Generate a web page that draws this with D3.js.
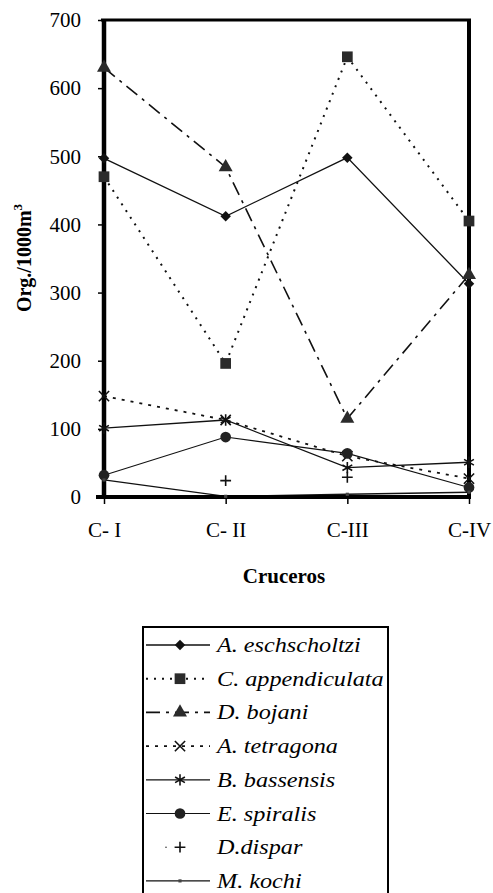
<!DOCTYPE html>
<html>
<head>
<meta charset="utf-8">
<script src="https://cdn.jsdelivr.net/npm/d3@7"></script>
<style>
  body { margin: 0; background: #fff; }
  svg { font-family: "Liberation Serif", "DejaVu Serif", serif; }
</style>
</head>
<body>
<div id="chart"></div>
<script>
// data
const cruceros = ["C- I", "C- II", "C-III", "C-IV"];
const yTicks = [0, 100, 200, 300, 400, 500, 600, 700];

const eschscholtzi = [497, 412, 498, 313];
const appendiculata = [470, 196, 646, 405];
const bojani = [630, 484, 115, 326];
const tetragona = [148, 113, 60, 27];
const bassensis = [101, 113, 43, 51];
const spiralis = [32, 88, 64, 14];
const dispar = [null, 24, 29, null];
const kochi = [25, 1, 4, 7];

const speciesNames = ["A. eschscholtzi", "C. appendiculata", "D. bojani", "A. tetragona",
    "B. bassensis", "E. spiralis", "D.dispar", "M. kochi"];

const W = 493, H = 893;
const plotLeft = 104, plotRight = 469, plotTop = 20, plotBottom = 497;
const serif = "'Liberation Serif', 'DejaVu Serif', serif";

const svg = d3.select("#chart").append("svg")
    .attr("width", W)
    .attr("height", H)
    .attr("font-family", serif);

const x = d3.scalePoint().domain(cruceros).range([plotLeft, plotRight]);
const y = d3.scaleLinear().domain([0, 700]).range([plotBottom, plotTop]);

// style per series
const series = [
    {name: speciesNames[0], values: eschscholtzi, dash: null, sym: d3.symbolSquare, rot: 45, size: 55, fill: "#111", stroke: "none", width: 1.3},
    {name: speciesNames[1], values: appendiculata, dash: "2,6", sym: d3.symbolSquare, size: 115, fill: "#2b2b2b", stroke: "none", width: 2},
    {name: speciesNames[2], values: bojani, dash: "14,6,3,6", sym: d3.symbolTriangle, size: 85, fill: "#2b2b2b", stroke: "none", width: 1.6},
    {name: speciesNames[3], values: tetragona, dash: "3,6", sym: d3.symbolTimes, size: 70, fill: "none", stroke: "#111", width: 1.8},
    {name: speciesNames[4], values: bassensis, dash: null, sym: d3.symbolAsterisk, size: 90, fill: "none", stroke: "#111", width: 1.3},
    {name: speciesNames[5], values: spiralis, dash: null, sym: d3.symbolCircle, size: 90, fill: "#222", stroke: "none", width: 1.1},
    {name: speciesNames[6], values: dispar, dash: null, sym: d3.symbolPlus, size: 40, fill: "none", stroke: "#111", width: 0, noLine: true},
    {name: speciesNames[7], values: kochi, dash: null, sym: d3.symbolSquare, size: 10, fill: "#444", stroke: "none", width: 1.3}
];

// axes
const yAxis = d3.axisLeft(y).tickValues(yTicks).tickSize(6).tickPadding(17);
svg.append("g")
    .attr("transform", "translate(" + plotLeft + ",0)")
    .call(yAxis)
    .attr("font-family", serif)
    .attr("font-size", 21)
    .call(g => g.select(".domain").remove())
    .call(g => g.selectAll(".tick line").attr("stroke", "#000").attr("stroke-width", 1.5))
    .selectAll("text")
    .attr("fill", "#000");

const xAxis = d3.axisBottom(x).tickSize(7).tickPadding(18);
svg.append("g")
    .attr("transform", "translate(0," + plotBottom + ")")
    .call(xAxis)
    .attr("font-family", serif)
    .attr("font-size", 21)
    .call(g => g.select(".domain").remove())
    .call(g => g.selectAll(".tick line").attr("stroke", "#000").attr("stroke-width", 1.5))
    .selectAll("text")
    .attr("fill", "#000");

// lines
const line = d3.line()
    .defined(d => d != null)
    .x((d, i) => x(cruceros[i]))
    .y(d => y(d));

series.forEach(s => {
    if (!s.noLine) {
        svg.append("path")
            .attr("d", line(s.values))
            .attr("fill", "none")
            .attr("stroke", "#111")
            .attr("stroke-width", s.width)
            .attr("stroke-dasharray", s.dash);
    }
});

// frame
svg.append("line").attr("x1", plotLeft - 3).attr("x2", plotRight + 2).attr("y1", plotTop).attr("y2", plotTop)
    .attr("stroke", "#000").attr("stroke-width", 3);
svg.append("line").attr("x1", plotLeft - 8).attr("x2", plotRight + 2).attr("y1", plotBottom).attr("y2", plotBottom)
    .attr("stroke", "#000").attr("stroke-width", 4);
svg.append("line").attr("x1", plotLeft).attr("x2", plotLeft).attr("y1", plotTop - 1).attr("y2", plotBottom + 2)
    .attr("stroke", "#000").attr("stroke-width", 4.5);
svg.append("line").attr("x1", plotRight).attr("x2", plotRight).attr("y1", plotTop - 1).attr("y2", plotBottom + 2)
    .attr("stroke", "#000").attr("stroke-width", 4);

// markers
function drawMarker(g, s, cx, cy) {
    g.append("path")
        .attr("d", d3.symbol().type(s.sym).size(s.size)())
        .attr("transform", "translate(" + cx + "," + cy + ")" + (s.rot ? " rotate(" + s.rot + ")" : ""))
        .attr("fill", s.fill)
        .attr("stroke", s.stroke)
        .attr("stroke-width", s.stroke === "none" ? 0 : 1.6);
}

series.forEach(s => {
    const g = svg.append("g");
    s.values.forEach((v, i) => {
        if (v == null) return;
        drawMarker(g, s, x(cruceros[i]), y(v));
    });
});

// axis titles
svg.append("text")
    .attr("transform", "translate(31,258) rotate(-90)")
    .attr("text-anchor", "middle")
    .style("font-size", "20px")
    .style("font-weight", "bold")
    .text("Org./1000m")
    .append("tspan")
    .attr("dy", -9)
    .style("font-size", "13px")
    .text("3");

svg.append("text")
    .attr("x", 284)
    .attr("y", 583)
    .attr("text-anchor", "middle")
    .style("font-size", "21px")
    .style("font-weight", "bold")
    .text("Cruceros");

// legend
const legX = 143, legY = 627, legW = 245, rowH = 33.7;
const legend = svg.append("g");
legend.append("rect")
    .attr("x", legX)
    .attr("y", legY)
    .attr("width", legW)
    .attr("height", H - legY + 5)
    .attr("fill", "none")
    .attr("stroke", "#000")
    .attr("stroke-width", 2);

series.forEach((s, i) => {
    const cy = 645 + i * rowH;
    if (s.noLine) {
        legend.append("circle").attr("cx", 166).attr("cy", cy).attr("r", 0.8).attr("fill", "#333");
    } else {
        legend.append("line")
            .attr("x1", 146).attr("x2", 210)
            .attr("y1", cy).attr("y2", cy)
            .attr("stroke", "#111")
            .attr("stroke-width", s.width)
            .attr("stroke-dasharray", s.dash);
    }
    drawMarker(legend, s, 180, cy);
    legend.append("text")
        .attr("transform", "translate(217," + (cy + 7) + ") scale(1.1,1)")
        .attr("font-family", serif)
        .attr("font-size", 22)
        .attr("font-style", "italic")
        .text(s.name);
});
</script>
</body>
</html>
